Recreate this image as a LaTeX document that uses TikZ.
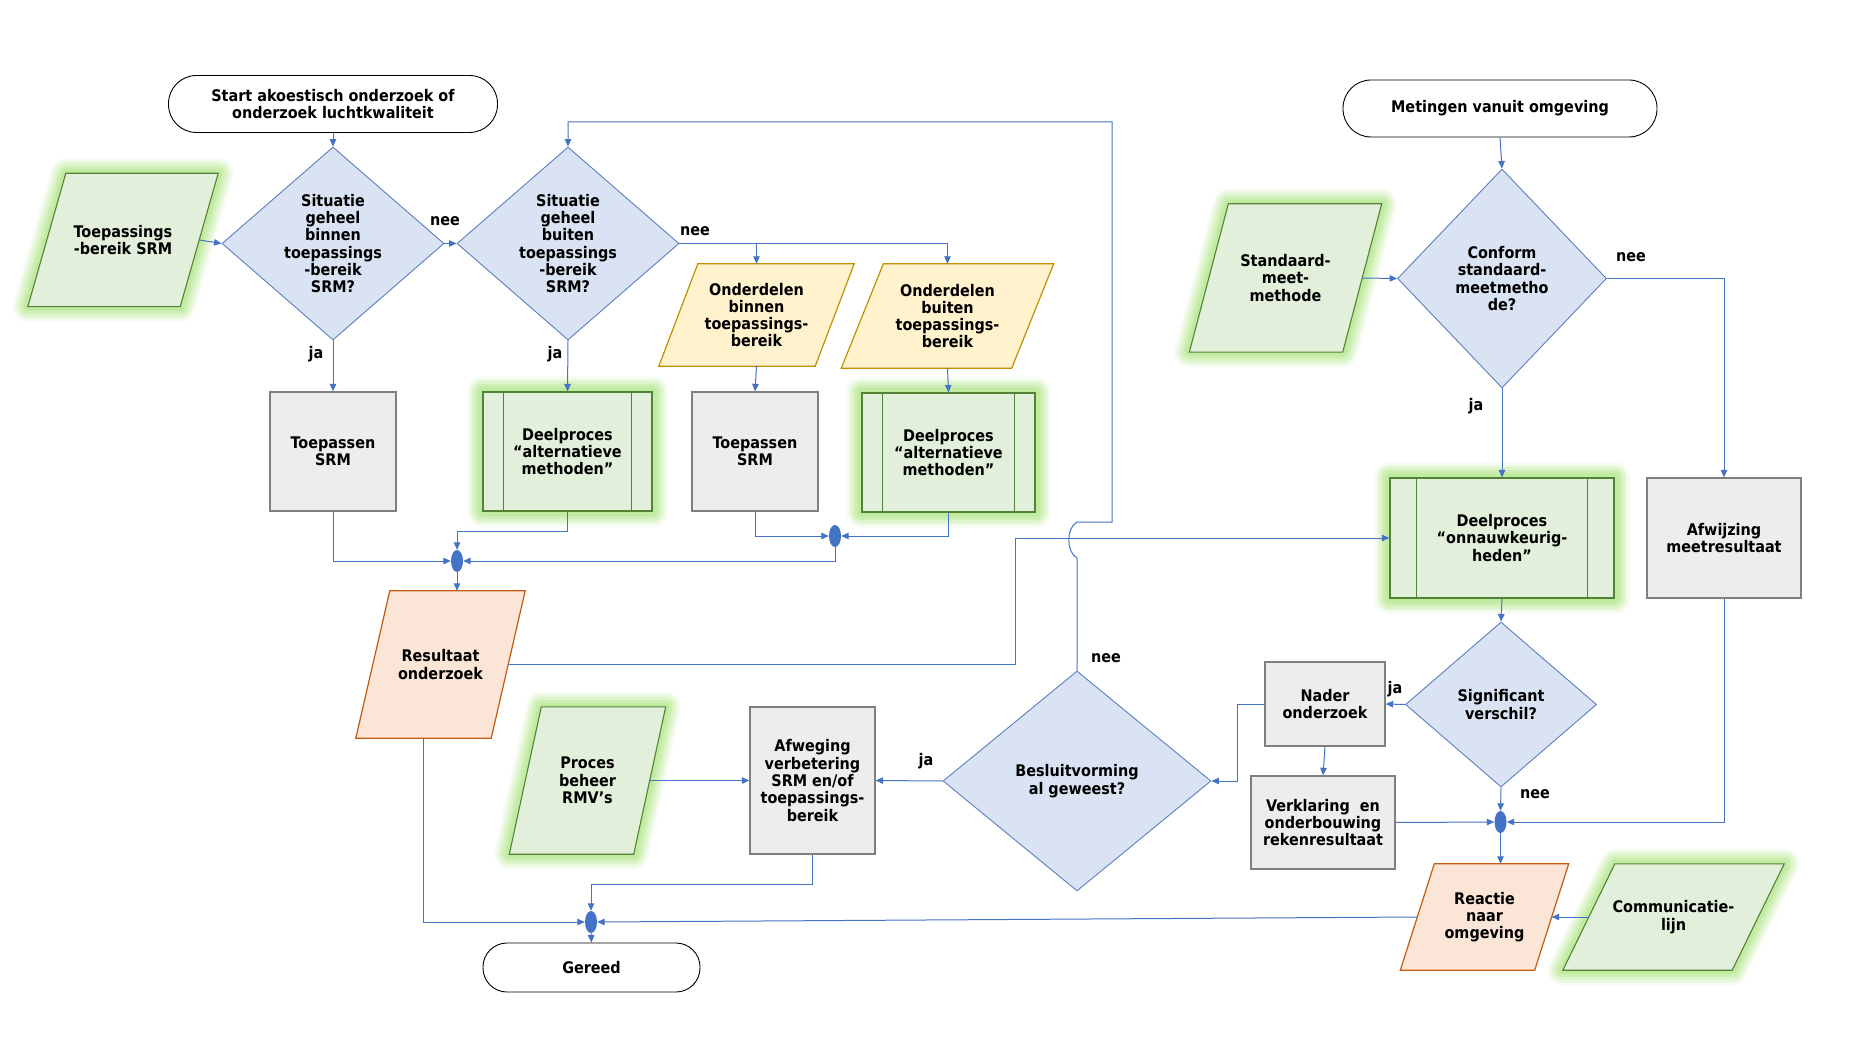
\documentclass[tikz,border=0pt]{standalone}
\usepackage{fontspec}
\setmainfont{DejaVuSansCondensed-Bold.ttf}
\usetikzlibrary{shapes.geometric,arrows.meta,backgrounds}
\definecolor{lijnblauw}{HTML}{4472C4}
\definecolor{ruitvul}{HTML}{DAE3F3}
\definecolor{ruitrand}{HTML}{5B7EC0}
\definecolor{grijsvul}{HTML}{EDEDED}
\definecolor{grijsrand}{HTML}{7F7F7F}
\definecolor{groenvul}{HTML}{E2EFDA}
\definecolor{groenrand}{HTML}{548235}
\definecolor{gloed}{HTML}{ABE67D}
\definecolor{geelvul}{HTML}{FFF2CC}
\definecolor{geelrand}{HTML}{BF9000}
\definecolor{oranjevul}{HTML}{FBE5D6}
\definecolor{oranjerand}{HTML}{C55A11}
\begin{document}
\begin{tikzpicture}[x=1pt, y=-1pt,
    every node/.style={font=\fontsize{16}{17.3}\selectfont, align=center, inner sep=0pt},
    terminal/.style={rectangle, draw=black, line width=0.9pt, fill=white, rounded corners=#1},
    ruit/.style={diamond, draw=ruitrand, line width=0.9pt, fill=ruitvul},
    proces/.style={rectangle, draw=grijsrand, line width=1.3pt, fill=grijsvul},
    deelproces/.style={rectangle, draw=groenrand, line width=1.1pt, fill=groenvul},
    invoer/.style={rectangle},
    knoop/.style={ellipse, fill=lijnblauw, minimum width=12, minimum height=22},
    pijl/.style={draw=lijnblauw, line width=1pt, -{Triangle[length=7.5pt,width=6.5pt]}},
    groenpara/.style={fill=groenvul, draw=groenrand, line width=1.1pt},
    geelpara/.style={fill=geelvul, draw=geelrand, line width=1.2pt},
    oranjepara/.style={fill=oranjevul, draw=oranjerand, line width=1.2pt},
    gloedrand/.style={draw=gloed, line join=round}
]
    \useasboundingbox (0,0) rectangle (1849,1040);

    % begin en einde
    \node[terminal=28pt, minimum width=329, minimum height=57] (start) at (333,104) {Start akoestisch onderzoek of\\onderzoek luchtkwaliteit};
    \node[terminal=28pt, minimum width=314, minimum height=57] (meting) at (1500,108.5) {Metingen vanuit omgeving};
    \node[terminal=24pt, minimum width=217, minimum height=49] (gereed) at (591.5,967.5) {Gereed};

    % beslissingen
    \node[ruit, shape aspect=1.15, minimum width=222, minimum height=193] (d1) at (333,243.5) {Situatie\\geheel\\binnen\\toepassings\\-bereik\\SRM?};
    \node[ruit, shape aspect=1.15, minimum width=222, minimum height=193] (d2) at (568,243.5) {Situatie\\geheel\\buiten\\toepassings\\-bereik\\SRM?};
    \node[ruit, shape aspect=0.95, minimum width=209, minimum height=219] (d3) at (1502,278.5) {Conform\\standaard-\\meetmetho\\de?};
    \node[ruit, shape aspect=1.22, minimum width=268, minimum height=220] (d4) at (1077,781) {Besluitvorming\\al geweest?};
    \node[ruit, shape aspect=1.16, minimum width=191, minimum height=165] (d5) at (1501,704.5) {Significant\\verschil?};

    % invoer en uitvoer
    \node[invoer, minimum width=152, minimum height=133] (tsrm) at (123,240) {Toepassings\\-bereik SRM};
    \node[invoer, minimum width=156, minimum height=102] (ondbin) at (756.5,315) {Onderdelen\\binnen\\toepassings-\\bereik};
    \node[invoer, minimum width=170, minimum height=104] (ondbui) at (947.5,316) {Onderdelen\\buiten\\toepassings-\\bereik};
    \node[invoer, minimum width=153, minimum height=148] (smm) at (1285.5,278) {Standaard-\\meet-\\methode};
    \node[invoer, minimum width=135, minimum height=147] (res) at (440.5,664.5) {Resultaat\\onderzoek};
    \node[invoer, minimum width=124, minimum height=147] (proc) at (587.5,780.5) {Proces\\beheer\\RMV’s};
    \node[invoer, minimum width=134, minimum height=106] (reactie) at (1484.5,917) {Reactie\\naar\\omgeving};
    \node[invoer, minimum width=169, minimum height=106] (comm) at (1673.5,917) {Communicatie-\\lijn};

    % processen
    \node[proces, minimum width=126, minimum height=119] (srm1) at (333,451.5) {Toepassen\\SRM};
    \node[proces, minimum width=126, minimum height=119] (srm2) at (755,451.5) {Toepassen\\SRM};
    \node[proces, minimum width=154, minimum height=120] (afw) at (1724,538) {Afwijzing\\meetresultaat};
    \node[proces, minimum width=125, minimum height=147] (afweg) at (812.5,780.5) {Afweging\\verbetering\\SRM en/of\\toepassings-\\bereik};
    \node[proces, minimum width=120, minimum height=84] (nader) at (1325,704) {Nader\\onderzoek};
    \node[proces, minimum width=144, minimum height=93] (verkl) at (1323,822.5) {Verklaring\ \ en\\onderbouwing\\rekenresultaat};
    \node[deelproces, minimum width=169, minimum height=119] (dp1) at (567.5,451.5) {Deelproces\\“alternatieve\\methoden”};
    \node[deelproces, minimum width=173, minimum height=119] (dp2) at (948.5,452.5) {Deelproces\\“alternatieve\\methoden”};
    \node[deelproces, minimum width=224, minimum height=120] (dp3) at (1502,538) {Deelproces\\“onnauwkeurig-\\heden”};
    \foreach \n/\b in {dp1/21, dp2/21, dp3/27} {
        \draw[groenrand, line width=0.8pt] ([xshift=\b]\n.north west) -- ([xshift=\b]\n.south west);
        \draw[groenrand, line width=0.8pt] ([xshift=-\b]\n.north east) -- ([xshift=-\b]\n.south east);
    }

    % samenvoegpunten
    \node[knoop] (m1) at (457,561) {};
    \node[knoop] (m2) at (835,536) {};
    \node[knoop] (m3) at (591,922) {};
    \node[knoop] (m4) at (1500.5,822) {};

    % ja/nee
    \node (nee1) at (445,221) {nee};
    \node (ja1) at (316,354) {ja};
    \node (ja2) at (555,354) {ja};
    \node (nee2) at (695,231) {nee};
    \node (nee3) at (1631,257) {nee};
    \node (ja3) at (1476,406) {ja};
    \node (ja5) at (1395,689) {ja};
    \node (nee5) at (1535,794) {nee};
    \node (nee4) at (1106,658) {nee};
    \node (ja4) at (926,761) {ja};

    % verbindingen
    \draw[pijl] (start.south) -- (d1.north);
    \draw[pijl] (tsrm.east) -- (d1.west);
    \draw[pijl] (d1.east) -- (d2.west);
    \draw[pijl] (d1.south) -- (srm1.north);
    \draw[pijl] (d2.south) -- (dp1.north);
    \draw[pijl] (d2.east) -| (ondbui.north);
    \draw[pijl] (d2.east -| ondbin.north) -- (ondbin.north);
    \draw[pijl] (ondbin.south) -- (srm2.north);
    \draw[pijl] (ondbui.south) -- (dp2.north);
    \draw[pijl] (srm1.south) |- (m1.west);
    \draw[pijl] (dp1.south) -- ++(0,20) -| (m1.north);
    \draw[pijl] (srm2.south) |- (m2.west);
    \draw[pijl] (dp2.south) |- (m2.east);
    \draw[pijl] (m2.south) |- (m1.east);
    \draw[pijl] (m1.south) -- (m1.south |- res.north);
    \draw[pijl] (res.east) -- ++(507,0) |- (dp3.west);
    \coordinate (sprongonder) at (1077,558);
    \coordinate (sprongboven) at (1077,522);
    \coordinate (terugrechts) at (1112,122);
    \draw[pijl] (d4.north) -- (sprongonder) .. controls (1066,552) and (1066,528) .. (sprongboven)
        -- (sprongboven -| terugrechts) -- (terugrechts) -| (d2.north);
    \draw[pijl] (meting.south) -- (d3.north);
    \draw[pijl] (smm.east) -- (d3.west);
    \draw[pijl] (d3.south) -- (dp3.north);
    \draw[pijl] (d3.east) -| (afw.north);
    \draw[pijl] (dp3.south) -- (d5.north);
    \draw[pijl] (d5.west) -- (nader.east);
    \draw[pijl] (nader.west) -- ++(-26.5,0) |- (d4.east);
    \draw[pijl] (nader.south) -- (verkl.north);
    \draw[pijl] (verkl.east) -- (m4.west);
    \draw[pijl] (d5.south) -- (m4.north);
    \draw[pijl] (afw.south) |- (m4.east);
    \draw[pijl] (m4.south) -- (m4.south |- reactie.north);
    \draw[pijl] (comm.west) -- (reactie.east);
    \draw[pijl] (reactie.west) -- (m3.east);
    \draw[pijl] (d4.west) -- (afweg.east);
    \draw[pijl] (proc.east) -- (afweg.west);
    \draw[pijl] (afweg.south) -- ++(0,30) -| (m3.north);
    \draw[pijl] ([xshift=-17]res.south) |- (m3.west);
    \draw[pijl] (m3.south) -- (gereed.north);

    % achtergrond: gloed en parallellogrammen
    \begin{scope}[on background layer]
        \fill[white] (0,0) rectangle (1849,1040);
        \foreach \lw/\op in {30/0.1, 25/0.15, 20/0.2, 14/0.3, 8/0.35} {
            \foreach \n/\d in {tsrm/38, smm/39, proc/32, comm/52}
                \draw[gloedrand, line width=\lw, draw opacity=\op] ([xshift=\d/2]\n.north west) -- ([xshift=\d/2]\n.north east) -- ([xshift=-\d/2]\n.south east) -- ([xshift=-\d/2]\n.south west) -- cycle;
            \foreach \n in {dp1, dp2, dp3}
                \draw[gloedrand, line width=\lw, draw opacity=\op] (\n.north west) rectangle (\n.south east);
        }
        \foreach \n/\d/\s in {tsrm/38/groenpara, smm/39/groenpara, proc/32/groenpara, comm/52/groenpara, ondbin/39/geelpara, ondbui/42/geelpara, res/34/oranjepara, reactie/34/oranjepara}
            \draw[\s] ([xshift=\d/2]\n.north west) -- ([xshift=\d/2]\n.north east) -- ([xshift=-\d/2]\n.south east) -- ([xshift=-\d/2]\n.south west) -- cycle;
    \end{scope}
\end{tikzpicture}
\end{document}
